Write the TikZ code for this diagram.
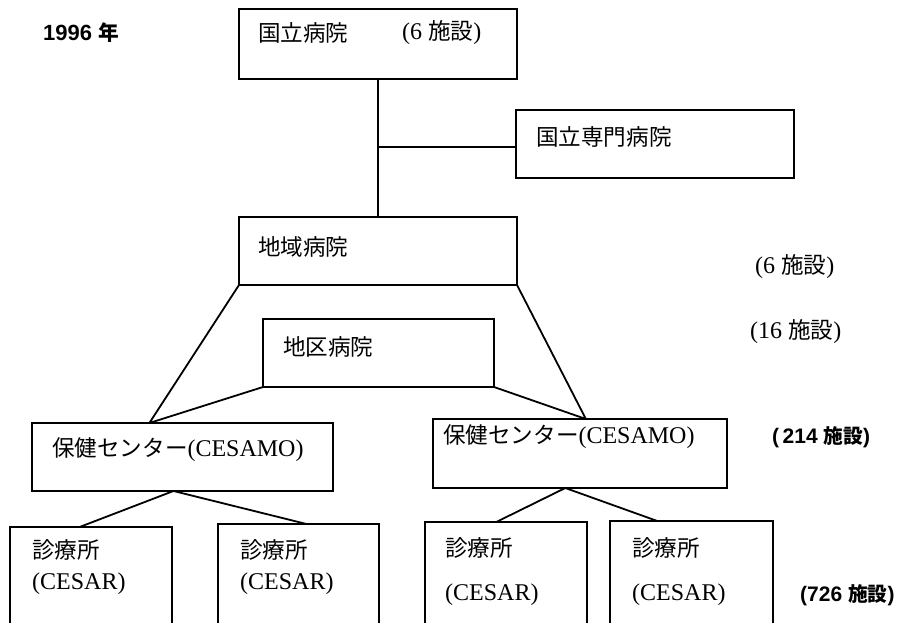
\documentclass[tikz,border=0pt]{standalone}
\usepackage{fontspec}
\setmainfont{Liberation Serif}
\setsansfont{Liberation Sans}
\newfontfamily\jpf{Noto Sans CJK JP}[Scale=0.94]
\usetikzlibrary{calc}
\begin{document}
\begin{tikzpicture}[x=1pt,y=-1pt,
  box/.style={draw, line width=1.6pt, anchor=north west, inner sep=0pt, outer sep=0pt},
  lbl/.style={anchor=west, inner sep=0pt, font=\fontsize{24}{28}\selectfont},
  blbl/.style={anchor=west, inner sep=0pt, font=\sffamily\bfseries\fontsize{21}{25}\selectfont},
  link/.style={line width=1.8pt, line join=round}]
\useasboundingbox (0,0) rectangle (900,623);
\clip (0,0) rectangle (900,623);

% boxes
\node[box, minimum width=278pt, minimum height=70pt] (A) at (239,9) {};
\node[box, minimum width=278pt, minimum height=68pt] (B) at (516,110) {};
\node[box, minimum width=278pt, minimum height=68pt] (C) at (239,217) {};
\node[box, minimum width=231pt, minimum height=68pt] (D) at (263,319) {};
\node[box, minimum width=301pt, minimum height=68pt] (E) at (32,423) {};
\node[box, minimum width=294pt, minimum height=69pt] (F) at (433,419) {};
\node[box, minimum width=162pt, minimum height=130pt] (G1) at (10,527) {};
\node[box, minimum width=161pt, minimum height=130pt] (G2) at (218,524) {};
\node[box, minimum width=162pt, minimum height=130pt] (G3) at (425,522) {};
\node[box, minimum width=163pt, minimum height=130pt] (G4) at (610,521) {};

% texts
\node[blbl, font=\sffamily\bfseries\fontsize{22}{26}\selectfont] (t1996) at (43,33) {1996 {\jpf 年}};
\node[lbl] (tA) at (258,33) {\jpf 国立病院};
\node[lbl] (tAn) at (402,33) {(6 {\jpf 施設})};
\node[lbl] (tB) at (536,137) {\jpf 国立専門病院};
\node[lbl] (tC) at (258,247) {\jpf 地域病院};
\node[lbl] (tD) at (283,347) {\jpf 地区病院};
\node[lbl] (tE) at (52,450) {{\jpf 保健センター}(CESAMO)};
\node[lbl] (tF) at (443,437) {{\jpf 保健センター}(CESAMO)};
\node[lbl] (tG1a) at (32,550) {\jpf 診療所};
\node[lbl] (tG1b) at (32,584) {(CESAR)};
\node[lbl] (tG2a) at (240,550) {\jpf 診療所};
\node[lbl] (tG2b) at (240,584) {(CESAR)};
\node[lbl] (tG3a) at (445,548) {\jpf 診療所};
\node[lbl] (tG3b) at (445,595) {(CESAR)};
\node[lbl] (tG4a) at (632,548) {\jpf 診療所};
\node[lbl] (tG4b) at (632,595) {(CESAR)};
\node[lbl] (n6) at (755,267) {(6 {\jpf 施設})};
\node[lbl] (n16) at (750,332) {(16 {\jpf 施設})};
\node[blbl] (n214) at (772,437) {(\,214 {\jpf 施設})};
\node[blbl] (n726) at (800,595) {(726 {\jpf 施設})};

% junction points
\coordinate (j1) at (A.south |- 0,147);
\coordinate (p1) at ($(E.north west)!0.39!(E.north east)$);
\coordinate (p2) at ($(F.north west)!0.52!(F.north east)$);
\coordinate (q1) at ($(E.south west)!0.47!(E.south east)$);
\coordinate (q2) at ($(F.south west)!0.45!(F.south east)$);
\coordinate (g1) at ($(G1.north west)!0.43!(G1.north east)$);
\coordinate (g2) at ($(G2.north west)!0.55!(G2.north east)$);
\coordinate (g3) at ($(G3.north west)!0.44!(G3.north east)$);
\coordinate (g4) at ($(G4.north west)!0.29!(G4.north east)$);
\coordinate (b1) at (B.west |- j1);

% connectors
\draw[line width=1.4pt] (A.south) -- (C.north);
\draw[line width=1.4pt] (j1) -- (b1);
\draw[link] (C.south west) -- (p1) -- (D.south west);
\draw[link] (C.south east) -- (p2) -- (D.south east);
\draw[link] (g1) -- (q1) -- (g2);
\draw[link] (g3) -- (q2) -- (g4);
\end{tikzpicture}
\end{document}
